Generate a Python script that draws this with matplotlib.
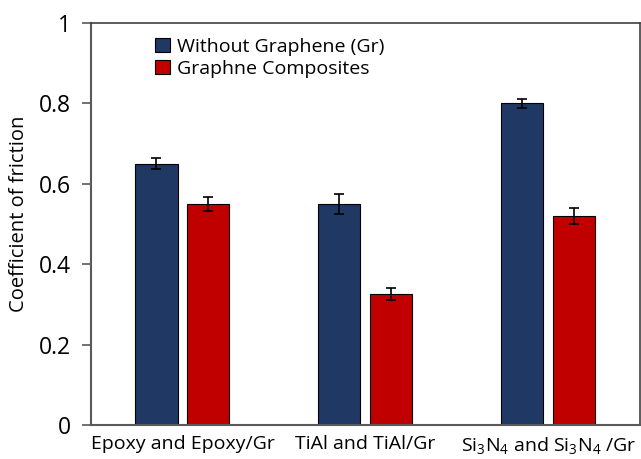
import numpy as np
import matplotlib
matplotlib.use("Agg")
import matplotlib.pyplot as plt

plt.rcParams['font.family'] = ['Open Sans', 'DejaVu Sans']
plt.rcParams['mathtext.fontset'] = 'custom'
plt.rcParams['mathtext.rm'] = 'Open Sans'
plt.rcParams['mathtext.it'] = 'Open Sans'

categories = ["Epoxy and Epoxy/Gr", "TiAl and TiAl/Gr",
              "Si$_3$N$_4$ and Si$_3$N$_4$ /Gr"]
without_gr = [0.65, 0.55, 0.80]
without_gr_err = [0.014, 0.024, 0.011]
with_gr = [0.55, 0.325, 0.52]
with_gr_err = [0.018, 0.015, 0.020]
series_names = ["Without Graphene (Gr)", "Graphne Composites"]

fig = plt.figure(figsize=(6.41, 4.59), dpi=100)
ax = fig.add_axes([0.142, 0.074, 0.856, 0.876])

x = np.arange(len(categories))
w = 0.23
off = 0.142
err_kw = dict(ecolor='black', elinewidth=1.2, capsize=3.5, capthick=1.2)
ax.bar(x - off, without_gr, w, yerr=without_gr_err, color='#1F3864',
       edgecolor='black', linewidth=0.8, label=series_names[0], error_kw=err_kw)
ax.bar(x + off, with_gr, w, yerr=with_gr_err, color='#C00000',
       edgecolor='black', linewidth=0.8, label=series_names[1], error_kw=err_kw)

ax.set_xlim(-0.5, 2.5)
ax.set_ylim(0, 1)
ax.set_yticks([0, 0.2, 0.4, 0.6, 0.8, 1])
ax.set_yticklabels(["0", "0.2", "0.4", "0.6", "0.8", "1"], fontsize=16.5)
ax.set_xticks(x)
ax.set_xticklabels(categories, fontsize=14)
ax.tick_params(axis='x', length=0, pad=7)
ax.tick_params(axis='y', direction='out', length=6.5, width=1.2, color='#595959', pad=8)
ax.set_ylabel("Coefficient of friction", fontsize=14.5)
ax.yaxis.set_label_coords(-0.113, 0.525)

for side in ['left', 'bottom']:
    ax.spines[side].set_color('#595959')
    ax.spines[side].set_linewidth(1.5)
for side in ['top', 'right']:
    ax.spines[side].set_color('#404040')
    ax.spines[side].set_linewidth(1.2)

ax.legend(loc='upper left', bbox_to_anchor=(0.103, 0.982), frameon=False,
          fontsize=14, handlelength=0.75, handleheight=0.75, handletextpad=0.35,
          labelspacing=0.2, borderaxespad=0)

plt.savefig("out.png", dpi=100)
plt.close()
